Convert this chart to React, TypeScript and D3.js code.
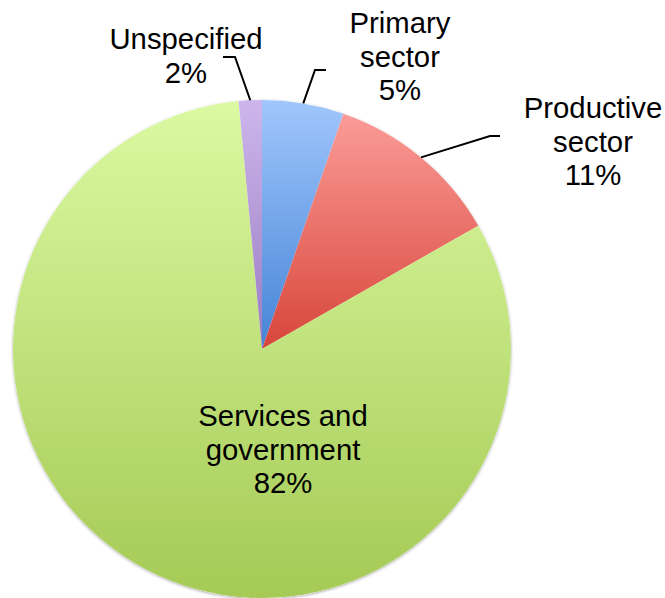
import React from "react";
import * as d3 from "d3";

const categories = ["Primary sector", "Productive sector", "Services and government", "Unspecified"];
const values = [5.3, 11.45, 81.75, 1.5];
const percentLabels = ["5%", "11%", "82%", "2%"];

const W = 665, H = 598;
const CX = 262, CY = 349, R = 249;
const FONT = 29.3, LH = 33.5;

// gradient stops: [top, bottom]
const gradients = [
  ["#a0c6fc", "#4684d6"],
  ["#fb9c98", "#d8453a"],
  ["#dbf9a2", "#a5ca55"],
  ["#cdb6ec", "#9a7bc2"],
];

// label layout: center x, first baseline y, lines
const labelLayout = [
  { x: 400, y: 33, lines: ["Primary", "sector"], elbow: [[315, 70], [326, 70]] },
  { x: 593, y: 118, lines: ["Productive", "sector"], elbow: [[490, 136], [500, 136]] },
  { x: 283, y: 426, lines: ["Services and", "government"], elbow: null },
  { x: 186, y: 49, lines: ["Unspecified"], elbow: [[235, 57], [223, 57]] },
];

export default function App() {
  const pie = d3.pie<number>().sort(null).startAngle(0).endAngle(2 * Math.PI);
  const arcs = pie(values);
  const arcGen = d3.arc<d3.PieArcDatum<number>>().innerRadius(0).outerRadius(R);

  return (
    <svg width={W} height={H} style={{ position: "absolute", left: 0, top: 0 }}
      fontFamily="'Liberation Sans', Arial, sans-serif">
      <defs>
        {gradients.map((g, i) => (
          <linearGradient key={i} id={`g${i}`} x1="0" y1="0" x2="0" y2="1">
            <stop offset="0" stopColor={g[0]} />
            <stop offset="1" stopColor={g[1]} />
          </linearGradient>
        ))}
        <filter id="shadow" x="-10%" y="-10%" width="120%" height="120%">
          <feDropShadow dx="0" dy="1" stdDeviation="1.5" floodColor="#000" floodOpacity="0.35" />
        </filter>
      </defs>
      <g transform={`translate(${CX},${CY})`}>
        <circle r={R} fill="#fff" filter="url(#shadow)" />
        {arcs.map((a, i) => (
          <path key={categories[i]} d={arcGen(a) || ""} fill={`url(#g${i})`} />
        ))}
      </g>
      {arcs.map((a, i) => {
        const L = labelLayout[i];
        if (!L.elbow) return null;
        const mid = (a.startAngle + a.endAngle) / 2;
        const sx = CX + R * Math.sin(mid);
        const sy = CY - R * Math.cos(mid);
        const pts = [[sx, sy], ...L.elbow];
        return (
          <polyline key={"l" + i} points={pts.map((p) => p.join(",")).join(" ")}
            fill="none" stroke="#000" strokeWidth={2} />
        );
      })}
      {arcs.map((a, i) => {
        const L = labelLayout[i];
        const lines = [...L.lines, percentLabels[i]];
        return (
          <text key={"t" + i} x={L.x} y={L.y} fontSize={FONT} textAnchor="middle" fill="#000">
            {lines.map((ln, j) => (
              <tspan key={j} x={L.x} y={L.y + j * LH}>{ln}</tspan>
            ))}
          </text>
        );
      })}
    </svg>
  );
}
